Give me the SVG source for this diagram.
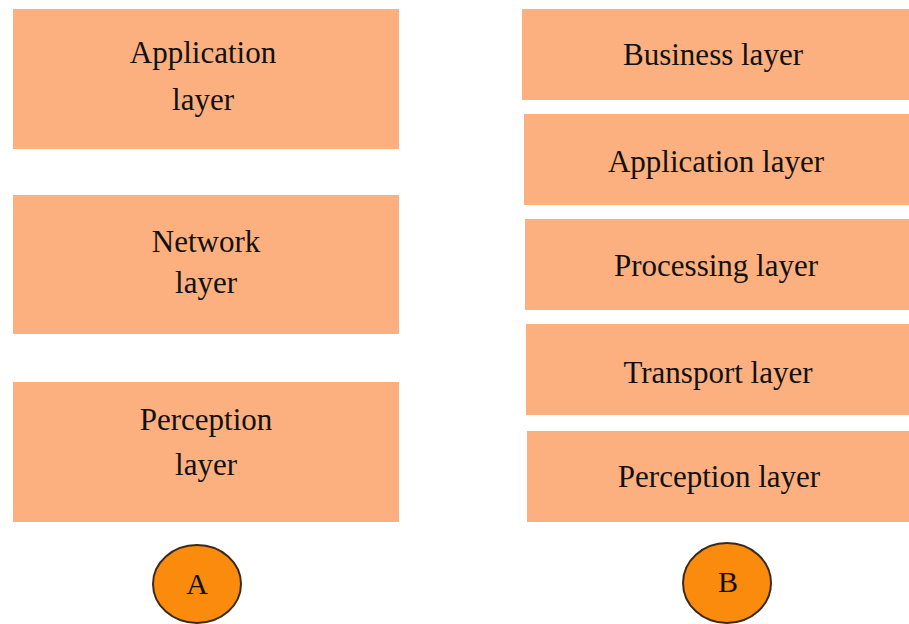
<svg xmlns="http://www.w3.org/2000/svg" width="909" height="624" viewBox="0 0 909 624">
<style>
.box{fill:#FDB07F;}
.t{font-family:"Liberation Serif",serif;font-size:31px;fill:#111111;text-anchor:middle;}
.c{fill:#FB8B0C;stroke:#3a2a1a;stroke-width:2;}
.ct{font-family:"Liberation Serif",serif;font-size:30px;fill:#111111;text-anchor:middle;}
</style>
<rect width="909" height="624" fill="#ffffff"/>
<g id="a-application">
<rect class="box" x="13" y="9" width="386" height="140"/>
<text class="t" x="203" y="63">Application</text>
<text class="t" x="203" y="110">layer</text>
</g>
<g id="a-network">
<rect class="box" x="13" y="195" width="386" height="139"/>
<text class="t" x="206" y="252">Network</text>
<text class="t" x="206" y="293">layer</text>
</g>
<g id="a-perception">
<rect class="box" x="13" y="382" width="386" height="140"/>
<text class="t" x="206" y="430">Perception</text>
<text class="t" x="206" y="475">layer</text>
</g>
<g id="b-business">
<rect class="box" x="522" y="9" width="387" height="91"/>
<text class="t" x="713" y="65">Business layer</text>
</g>
<g id="b-application">
<rect class="box" x="524" y="114" width="385" height="91"/>
<text class="t" x="716" y="172">Application layer</text>
</g>
<g id="b-processing">
<rect class="box" x="525" y="219" width="384" height="91"/>
<text class="t" x="716" y="276">Processing layer</text>
</g>
<g id="b-transport">
<rect class="box" x="526" y="324" width="383" height="91"/>
<text class="t" x="718" y="383">Transport layer</text>
</g>
<g id="b-perception">
<rect class="box" x="527" y="431" width="382" height="91"/>
<text class="t" x="719" y="487">Perception layer</text>
</g>
<g id="label-a">
<ellipse class="c" cx="197" cy="584" rx="44" ry="39"/>
<text class="ct" x="197" y="594">A</text>
</g>
<g id="label-b">
<ellipse class="c" cx="727" cy="583" rx="44" ry="40"/>
<text class="ct" x="728" y="592">B</text>
</g>
<g id="connectors"></g>
</svg>
